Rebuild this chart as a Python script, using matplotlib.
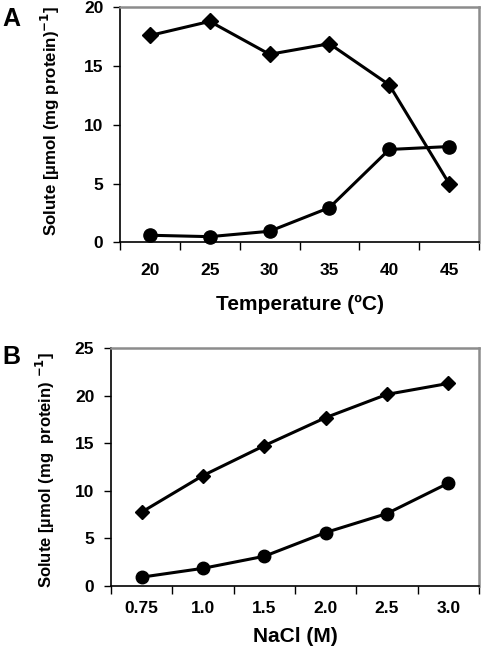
import matplotlib
matplotlib.use("Agg")
import matplotlib.pyplot as plt
import numpy as np

plt.rcParams['font.family'] = ['Liberation Sans', 'DejaVu Sans']
plt.rcParams['font.weight'] = 'bold'

# Panel A data
temp_labels = ["20", "25", "30", "35", "40", "45"]
temp_diamond = [17.6, 18.8, 16.0, 16.9, 13.4, 5.0]
temp_circle = [0.6, 0.48, 0.94, 2.95, 7.9, 8.15]

# Panel B data
nacl_labels = ["0.75", "1.0", "1.5", "2.0", "2.5", "3.0"]
nacl_diamond = [7.75, 11.6, 14.75, 17.7, 20.15, 21.3]
nacl_circle = [0.9, 1.83, 3.1, 5.6, 7.6, 10.8]

W, H = 482, 650
fig = plt.figure(figsize=(W / 100, H / 100), dpi=100)


def px_axes(l, t, r, b):
    return fig.add_axes([l / W, 1 - b / H, (r - l) / W, (b - t) / H])


def style(ax, labels, ymax, ystep, xlabel, ylabel, xtick_pad, xlab_y, ylab_x, ylab_y, ylab_size):
    n = len(labels)
    ax.set_xlim(-0.5, n - 0.5)
    ax.set_ylim(0, ymax)
    ax.set_xticks(np.arange(-0.5, n, 1.0))
    ax.set_xticklabels([])
    ax.set_xticks(np.arange(n), minor=True)
    ax.set_xticklabels(labels, minor=True)
    ax.tick_params(axis='x', which='major', direction='out', length=6, width=1, color='black')
    ax.tick_params(axis='x', which='minor', length=0, pad=xtick_pad, labelsize=12.5)
    ax.set_yticks(np.arange(0, ymax + 0.1, ystep))
    ax.tick_params(axis='y', direction='out', length=5, width=1, pad=7, labelsize=12.5)
    for s in ['left', 'bottom']:
        ax.spines[s].set_color('black')
        ax.spines[s].set_linewidth(1.2)
    for s in ['top', 'right']:
        ax.spines[s].set_color('#8c8c8c')
        ax.spines[s].set_linewidth(1.8)
    ax.set_xlabel(xlabel, fontsize=15, fontweight='bold')
    ax.xaxis.set_label_coords(0.5, xlab_y)
    ax.set_ylabel(ylabel, fontsize=ylab_size, fontweight='bold')
    ax.yaxis.set_label_coords(ylab_x, ylab_y)


axA = px_axes(120, 7.3, 479, 242.3)
x = np.arange(len(temp_labels))
axA.plot(x, temp_diamond, color='black', lw=2.2, marker='D', ms=8.5, clip_on=False, zorder=3)
axA.plot(x, temp_circle, color='black', lw=2.2, marker='o', ms=9.5, clip_on=False, zorder=3)
style(axA, temp_labels, 20, 5, 'Temperature (ºC)',
      'Solute [µmol (mg protein)$^{\\mathbf{-1}}$]',
      15, -0.222, -0.162, 0.515, 12.2)

axB = px_axes(111, 348.3, 479, 585.7)
x = np.arange(len(nacl_labels))
axB.plot(x, nacl_diamond, color='black', lw=2.2, marker='D', ms=7.5, clip_on=False, zorder=3)
axB.plot(x, nacl_circle, color='black', lw=2.2, marker='o', ms=9, clip_on=False, zorder=3)
style(axB, nacl_labels, 25, 5, 'NaCl (M)',
      'Solute [µmol (mg  protein) $^{\\mathbf{-1}}$]',
      11, -0.174, -0.147, 0.489, 12.0)

fig.text(2 / W, 1 - 18.5 / H, 'A', fontsize=18, fontweight='bold', ha='left', va='center')
fig.text(2 / W, 1 - 356.5 / H, 'B', fontsize=18, fontweight='bold', ha='left', va='center')

fig.savefig('out.png', dpi=100)
